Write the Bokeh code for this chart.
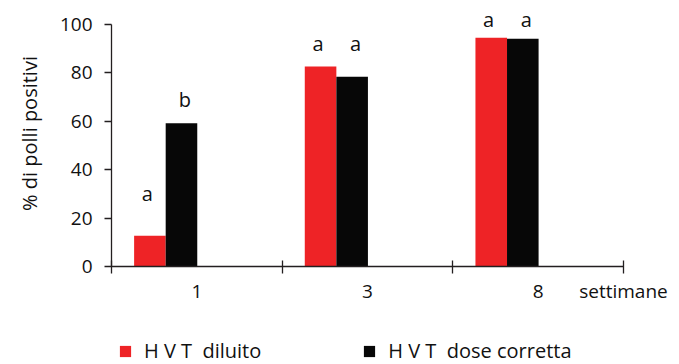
from bokeh.plotting import figure
from bokeh.layouts import column
from bokeh.models import FixedTicker, Range1d, Legend, LegendItem, ColumnDataSource
from bokeh.transform import dodge
from bokeh.core.properties import value
from bokeh.embed import file_html
from bokeh.resources import INLINE

# ---- data ----
weeks = ["1", "3", "8"]
diluito = [12.7, 82.6, 94.5]
corretta = [59.2, 78.4, 94.1]
letters_diluito = ["a", "a", "a"]
letters_corretta = ["b", "a", "a"]
letter_y_diluito = [30, 92, 102]
letter_y_corretta = [69, 92, 102]
series_names = ["H V T  diluito", "H V T  dose corretta"]
y_ticks = [0, 20, 40, 60, 80, 100]
y_title = "% di polli positivi"
x_title = "settimane"

FONT = "Open Sans"
RED = "#ee2326"
BLACK = "#070707"
AXIS = "#231f20"
TXT = "#111111"

n = len(weeks)
pos = [i + 0.5 for i in range(n)]
bounds_ticks = list(range(n + 1))
src = ColumnDataSource(dict(x=pos, dil=diluito, cor=corretta,
                            ld=letters_diluito, lc=letters_corretta,
                            yd=letter_y_diluito, yc=letter_y_corretta))

# ---- main chart ----
p = figure(width=679, height=306, x_range=Range1d(0, n * 568 / 512), y_range=Range1d(0, 109.9),
           output_backend="svg", toolbar_location=None,
           min_border_left=111, min_border_right=0, min_border_top=0, min_border_bottom=40)
p.outline_line_color = None
p.xgrid.visible = False
p.ygrid.visible = False

r_red = p.vbar(x=dodge("x", -0.275), top="dil", width=0.185, source=src,
               fill_color=RED, line_color=None)
r_blk = p.vbar(x=dodge("x", -0.09), top="cor", width=0.185, source=src,
               fill_color=BLACK, line_color=None)

p.text(x=dodge("x", -0.29), y="yd", text="ld", source=src, text_align="center",
       text_baseline="middle", text_font=value(FONT), text_font_size="20px", text_color=TXT)
p.text(x=dodge("x", -0.07), y="yc", text="lc", source=src, text_align="center",
       text_baseline="middle", text_font=value(FONT), text_font_size="20px", text_color=TXT)

# y axis
ya = p.yaxis[0]
ya.ticker = FixedTicker(ticks=y_ticks)
ya.bounds = (0, 100)
ya.major_tick_in = 0
ya.major_tick_out = 7
ya.minor_tick_line_color = None
ya.axis_line_color = AXIS
ya.major_tick_line_color = AXIS
ya.axis_line_width = 1.3
ya.major_tick_line_width = 1.3
ya.major_label_text_font = FONT
ya.major_label_text_font_size = "19px"
ya.major_label_text_color = TXT
ya.major_label_standoff = 12
ya.axis_label = y_title
ya.axis_label_text_font = FONT
ya.axis_label_text_font_size = "20px"
ya.axis_label_text_font_style = "normal"
ya.axis_label_text_color = TXT
ya.axis_label_standoff = 14

# x axis: boundary ticks as minor ticks, category labels + title as major labels
xa = p.xaxis[0]
xa.bounds = (0, n)
xa.ticker = FixedTicker(ticks=pos + [n], minor_ticks=bounds_ticks)
overrides = {pv: w for pv, w in zip(pos, weeks)}
overrides[n] = x_title
xa.major_label_overrides = overrides
xa.major_tick_in = 0
xa.major_tick_out = 0
xa.minor_tick_in = 6
xa.minor_tick_out = 7
xa.minor_tick_line_color = AXIS
xa.minor_tick_line_width = 1.3
xa.axis_line_color = AXIS
xa.axis_line_width = 1.3
xa.major_label_text_font = FONT
xa.major_label_text_font_size = "19px"
xa.major_label_text_color = TXT
xa.major_label_standoff = 4

# ---- legend strip (its bars lie outside its own view; only the legend shows) ----
p2 = figure(width=679, height=58, x_range=Range1d(-20, -19), y_range=Range1d(0, 1),
            output_backend="svg", toolbar_location=None,
            x_axis_location=None, y_axis_location=None,
            min_border_left=111, min_border_right=0, min_border_top=0, min_border_bottom=0)
p2.outline_line_color = None
p2.grid.visible = False
l_red = p2.vbar(x="x", top="dil", width=0.185, source=src, fill_color=RED, line_color=None)
l_blk = p2.vbar(x="x", top="cor", width=0.185, source=src, fill_color=BLACK, line_color=None)

legend = Legend(items=[LegendItem(label=series_names[0], renderers=[l_red]),
                       LegendItem(label=series_names[1], renderers=[l_blk])],
                location=(7, 0), orientation="horizontal", border_line_color=None,
                background_fill_alpha=0, glyph_width=14, glyph_height=14, label_standoff=12,
                padding=0, margin=0, spacing=101,
                label_text_font=FONT, label_text_font_size="20px", label_text_color=TXT)
p2.add_layout(legend)

open("out.html", "w").write(file_html(column(p, p2, spacing=0), INLINE))
